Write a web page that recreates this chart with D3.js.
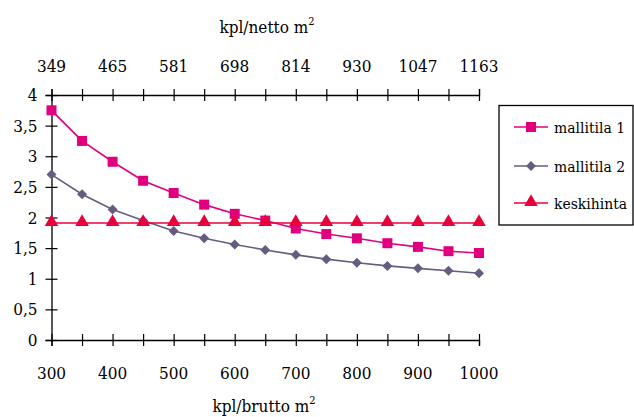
<!DOCTYPE html>
<html><head><meta charset="utf-8">
<script src="https://cdn.jsdelivr.net/npm/d3@7"></script>
<style>body{margin:0;background:#fff}svg{display:block}</style>
</head><body>
<script>
const xValues = [300,350,400,450,500,550,600,650,700,750,800,850,900,950,1000];
const mallitila1 = [3.75,3.25,2.91,2.60,2.40,2.21,2.06,1.95,1.82,1.73,1.66,1.58,1.52,1.45,1.42];
const mallitila2 = [2.70,2.38,2.13,1.95,1.78,1.66,1.56,1.47,1.39,1.32,1.26,1.21,1.17,1.13,1.09];
const keskihinta = [1.91,1.91,1.91,1.91,1.91,1.91,1.91,1.91,1.91,1.91,1.91,1.91,1.91,1.91,1.91];
const bottomTicks = [300,400,500,600,700,800,900,1000];
const topTickLabels = ["349","465","581","698","814","930","1047","1163"];
const yTicks = [0,0.5,1,1.5,2,2.5,3,3.5,4];
const seriesNames = ["mallitila 1","mallitila 2","keskihinta"];
const colors = ["#E0007F","#665C80","#E8003A"];

const FONT="'DejaVu Serif Condensed','DejaVu Serif',serif";
const FS=17, LFS=15.5;
const W=634,H=417;
const svg=d3.select("body").append("svg").attr("width",W).attr("height",H);
const x=d3.scaleLinear().domain([300,1000]).range([51.5,479]);
const y=d3.scaleLinear().domain([0,4]).range([340,95]);
const fmt=d=>String(d).replace(".",",");

function txt(g){return g.append("text").style("font-family",FONT).style("font-stretch","condensed").attr("fill","#000");}

// bottom axis
const bAx=svg.append("g").attr("transform","translate(0,340)")
  .call(d3.axisBottom(x).tickValues(xValues).tickSize(6).tickFormat(""));
bAx.selectAll(".tick line").attr("y1",-6).attr("y2",6);
bottomTicks.forEach(d=>txt(svg).attr("x",x(d)).attr("y",379).attr("text-anchor","middle").style("font-size",FS+"px").text(d));
// top axis
const tAx=svg.append("g").attr("transform","translate(0,95)")
  .call(d3.axisTop(x).tickValues(xValues).tickSize(6).tickFormat(""));
tAx.selectAll(".tick line").attr("y1",-6).attr("y2",6);
topTickLabels.forEach((d,i)=>txt(svg).attr("x",x(bottomTicks[i])).attr("y",72).attr("text-anchor","middle").style("font-size",FS+"px").text(d));
// left axis
const lAx=svg.append("g").attr("transform","translate(51.5,0)")
  .call(d3.axisLeft(y).tickValues(yTicks).tickSize(6).tickFormat(""));
lAx.selectAll(".tick line").attr("x1",-6).attr("x2",6);
yTicks.forEach(d=>txt(svg).attr("x",37.5).attr("y",y(d)+6).attr("text-anchor","end").style("font-size",FS+"px").text(fmt(d)));
[bAx,tAx,lAx].forEach(g=>{g.select(".domain").attr("stroke","#000").attr("stroke-width",1.3);g.selectAll(".tick line").attr("stroke","#000").attr("stroke-width",1.2);});

// titles
const t1=txt(svg).attr("x",267).attr("y",33).attr("text-anchor","middle").style("font-size",FS+"px");
t1.append("tspan").text("kpl/netto m");t1.append("tspan").attr("dy",-8).style("font-size","11px").text("2");
const t2=txt(svg).attr("x",264).attr("y",412).attr("text-anchor","middle").style("font-size",FS+"px");
t2.append("tspan").text("kpl/brutto m");t2.append("tspan").attr("dy",-8).style("font-size","11px").text("2");

const data=[mallitila1,mallitila2,keskihinta];
const sym=[d3.symbolSquare,d3.symbolSquare,d3.symbolTriangle];
const symSize=[100,50,80];
const rot=[0,45,0];
const line=d3.line().x((d,i)=>x(xValues[i])).y(d=>y(d));
data.forEach((s,k)=>{
  svg.append("path").datum(s).attr("d",line).attr("fill","none").attr("stroke",colors[k]).attr("stroke-width",1.6);
});
data.forEach((s,k)=>{
  svg.append("g").selectAll("path").data(s).join("path")
    .attr("transform",(d,i)=>`translate(${x(xValues[i])},${y(d)+(k===2?-1:0)}) rotate(${rot[k]})`)
    .attr("d",d3.symbol().type(sym[k]).size(symSize[k])).attr("fill",colors[k]);
});

// legend
svg.append("rect").attr("x",499).attr("y",105.5).attr("width",134).attr("height",119.5)
  .attr("fill","#fff").attr("stroke","#000").attr("stroke-width",1.3);
const ly=[127,166,203];
seriesNames.forEach((n,k)=>{
  svg.append("line").attr("x1",514).attr("x2",548).attr("y1",ly[k]).attr("y2",ly[k]).attr("stroke",colors[k]).attr("stroke-width",1.6);
  svg.append("path").attr("transform",`translate(531,${ly[k]+(k===2?-1:0)}) rotate(${rot[k]})`).attr("d",d3.symbol().type(sym[k]).size(symSize[k])).attr("fill",colors[k]);
  txt(svg).attr("x",554).attr("y",ly[k]+5.5).style("font-size",LFS+"px").text(n);
});
</script>
</body></html>
